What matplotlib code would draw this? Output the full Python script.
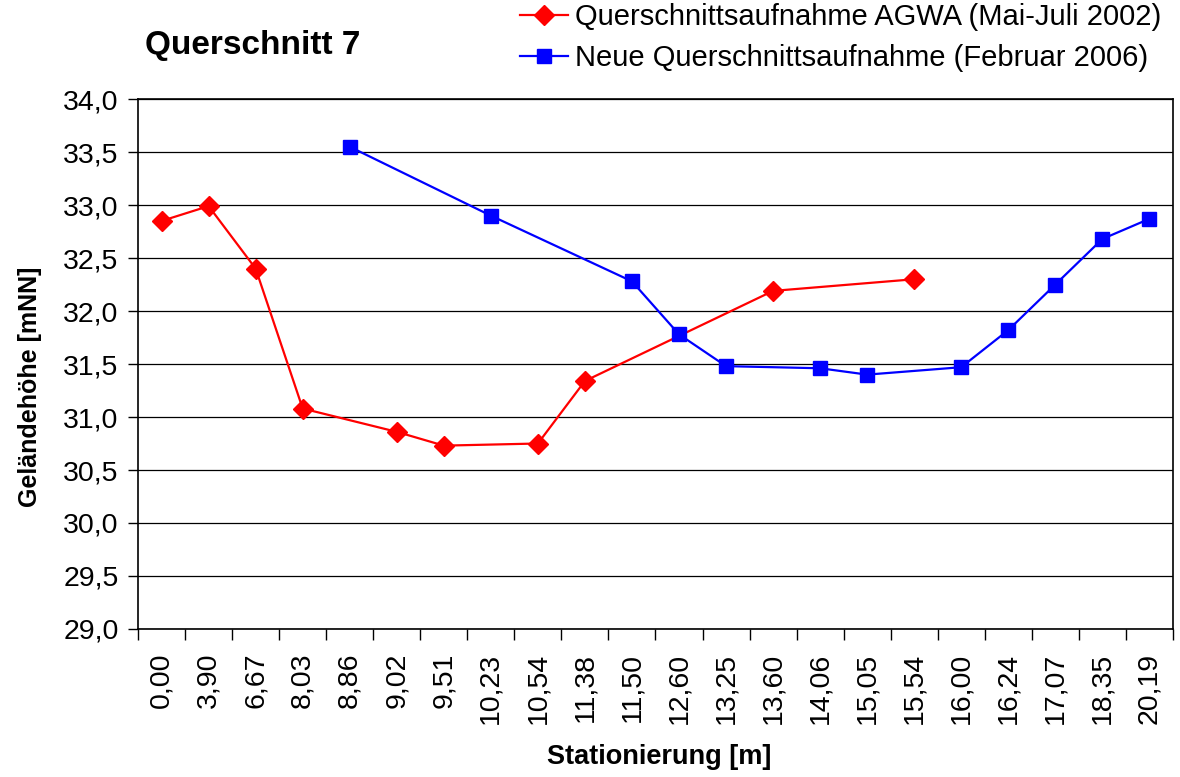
import numpy as np
import matplotlib
matplotlib.use("Agg")
import matplotlib.pyplot as plt
from matplotlib.ticker import FixedLocator, FuncFormatter

plt.rcParams['font.family'] = ['Liberation Sans', 'DejaVu Sans']

# Stationierung (categorical x axis, as in the Excel original)
stations = ["0,00", "3,90", "6,67", "8,03", "8,86", "9,02", "9,51", "10,23", "10,54",
            "11,38", "11,50", "12,60", "13,25", "13,60", "14,06", "15,05", "15,54",
            "16,00", "16,24", "17,07", "18,35", "20,19"]

# Geländehöhe [mNN]; None = no measurement at that station
agwa_2002 = [32.85, 32.99, 32.40, 31.08, None, 30.86, 30.73, None, 30.75,
             31.34, None, None, None, 32.19, None, None, 32.30,
             None, None, None, None, None]
neu_2006 = [None, None, None, None, 33.55, None, None, 32.90, None,
            None, 32.28, 31.78, 31.48, None, 31.46, 31.40, None,
            31.47, 31.82, 32.25, 32.68, 32.87]

label_2002 = "Querschnittsaufnahme AGWA (Mai-Juli 2002)"
label_2006 = "Neue Querschnittsaufnahme (Februar 2006)"


def valid(series):
    "indices and values of the measured points only, so the line bridges the gaps"
    idx = [i for i, v in enumerate(series) if v is not None]
    return idx, [series[i] for i in idx]


fig = plt.figure(figsize=(11.8, 7.77), dpi=100)
ax = fig.add_axes([0.117, 0.1905, 0.877, 0.682])

x1, y1 = valid(agwa_2002)
x2, y2 = valid(neu_2006)
ax.plot(x1, y1, color='#FF0000', lw=1.6, marker='D', markersize=10.5, label=label_2002, zorder=3)
ax.plot(x2, y2, color='#0000FF', lw=1.6, marker='s', markersize=9.5, label=label_2006, zorder=3)

ax.set_xlim(-0.5, len(stations) - 0.5)
ax.set_ylim(29.0, 34.0)
ax.set_yticks(np.arange(29.0, 34.01, 0.5))
ax.yaxis.set_major_formatter(FuncFormatter(lambda v, p: f"{v:.1f}".replace('.', ',')))
ax.grid(axis='y', color='black', lw=0.9)
ax.set_axisbelow(True)

ax.set_xticks(range(len(stations)))
ax.set_xticklabels(stations, rotation=90)
ax.xaxis.set_minor_locator(FixedLocator(np.arange(-0.5, len(stations), 1.0)))
ax.tick_params(axis='x', which='major', length=0, pad=17, labelsize=20.5)
ax.tick_params(axis='x', which='minor', length=8, width=1, color='black')
ax.tick_params(axis='y', length=7, width=1, labelsize=20.5, pad=7)

for s in ax.spines.values():
    s.set_color('black')
    s.set_linewidth(1.2)

ax.set_ylabel("Geländehöhe [mNN]", fontsize=18, fontweight='bold', va='center')
ax.yaxis.set_label_coords(-0.104, 0.457)
ax.set_xlabel("Stationierung [m]", fontsize=19.5, fontweight='bold', va='center')
ax.xaxis.set_label_coords(0.504, -0.2415)

fig.text(0.123, 0.942, "Querschnitt 7", fontsize=24, fontweight='bold', va='center')

fig.legend(loc='upper left', bbox_to_anchor=(0.4407, 0.996), frameon=False, fontsize=21,
           handlelength=1.65, handletextpad=0.25, labelspacing=0.45, borderpad=0,
           borderaxespad=0)

fig.savefig("out.png", dpi=100)
